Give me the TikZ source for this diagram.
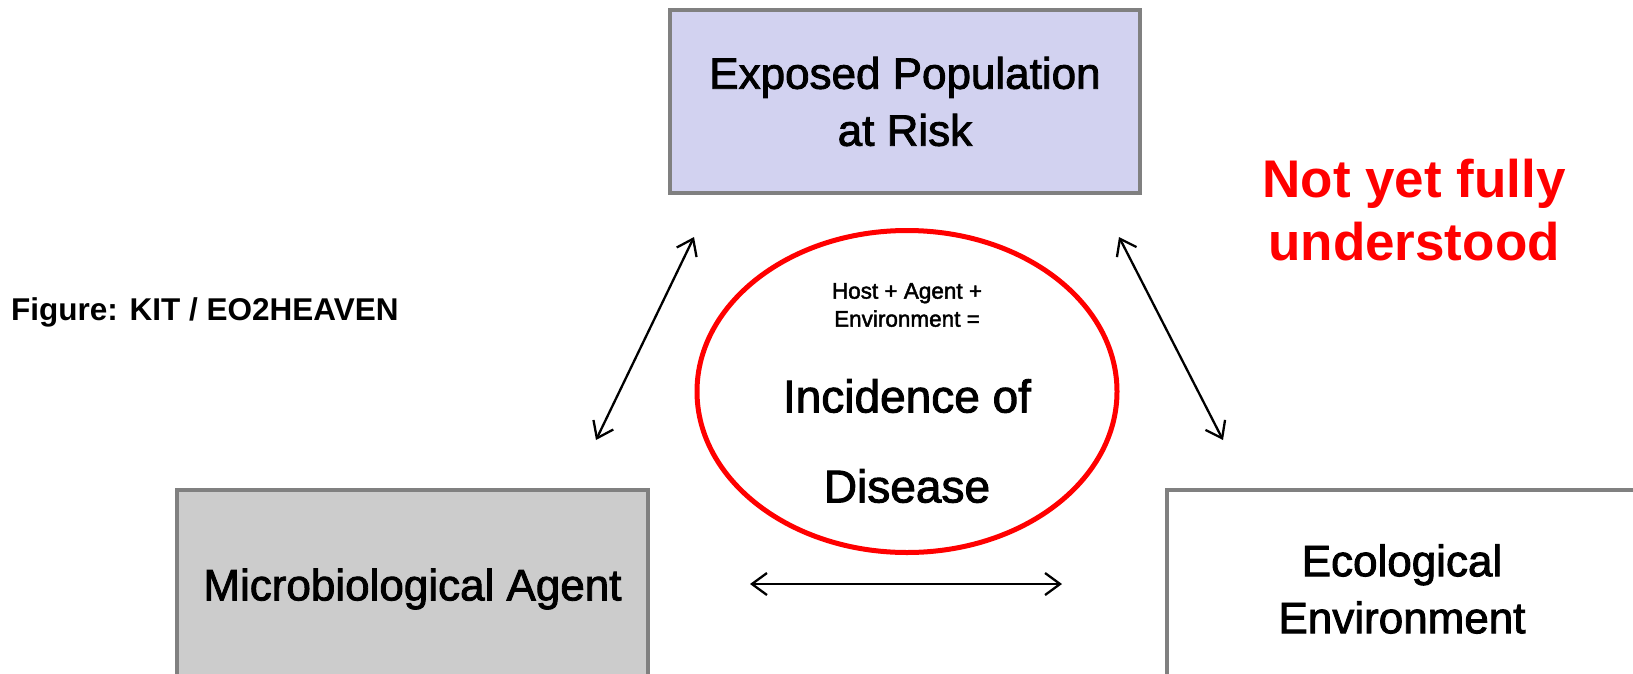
\documentclass[tikz,border=0pt]{standalone}
\usepackage{fontspec}
\setmainfont{Liberation Sans}
\newfontfamily\gothic{Liberation Sans}[BoldFont=Liberation Sans,BoldFeatures={FakeBold=2}]
\usetikzlibrary{arrows.meta,shapes.geometric}
\definecolor{popfill}{RGB}{210,210,240}
\definecolor{agentfill}{RGB}{204,204,204}
\definecolor{boxline}{RGB}{128,128,128}
\definecolor{alertred}{RGB}{255,0,0}
\begin{document}
\begin{tikzpicture}[
  x=1pt,y=-1pt,
  box/.style={draw=boxline,line width=4pt,inner sep=0pt,align=center,
    font=\gothic\bfseries\fontsize{44}{57}\selectfont},
  link/.style={draw=black,line width=2.3pt,
    {Straight Barb[length=15pt,width=22pt]}-{Straight Barb[length=15pt,width=22pt]}},
  small/.style={font=\gothic\bfseries\fontsize{22.5}{28}\selectfont,align=center},
  big/.style={font=\gothic\bfseries\fontsize{46}{90}\selectfont,align=center},
  note/.style={font=\bfseries\fontsize{53}{63}\selectfont,text=alertred,align=center},
]
\path[use as bounding box] (0,0) rectangle (1633,673);
\clip (0,0) rectangle (1633,673);
\node[box,fill=popfill,minimum width=470pt,minimum height=183pt] (pop) at (905,101.5)
  {Exposed Population\\at Risk};
\node[box,fill=agentfill,minimum width=471pt,minimum height=198pt] (agent) at (412.5,589)
  {Microbiological Agent};
\node[box,fill=white,minimum width=470pt,minimum height=198pt] (env) at (1402,589)
  {Ecological\\Environment};
\node[ellipse,draw=alertred,line width=5pt,minimum width=420pt,minimum height=322pt] (incid) at (907,391.5) {};
\node[small] (hae) at (907,305) {Host + Agent +\\Environment =};
\node[big] (disease) at (907,441) {Incidence of\\Disease};
\node[note] (unclear) at (1414,210.5) {Not yet fully\\understood};
\node[font=\bfseries\fontsize{31.5}{38}\selectfont,anchor=west,inner sep=0pt] (credit) at (11,312)
  {Figure: KIT / EO2HEAVEN};
\coordinate (popSW) at (694,237);
\coordinate (agentNE) at (596,440);
\coordinate (popSE) at (1119,237);
\coordinate (envNW) at (1223,440);
\coordinate (agentE) at (750,584);
\coordinate (envW) at (1062,584);
\draw[link] (popSW) -- (agentNE);
\draw[link] (popSE) -- (envNW);
\draw[link] (agentE) -- (envW);
\end{tikzpicture}
\end{document}
